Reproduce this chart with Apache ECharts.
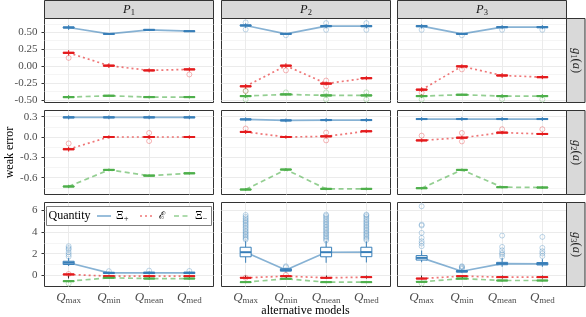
<!DOCTYPE html>
<html><head><meta charset="utf-8">
<script src="https://cdn.jsdelivr.net/npm/echarts@6/dist/echarts.min.js"></script>
<style>html,body{margin:0;padding:0;background:#fff}#c{width:586px;height:317px}</style>
</head><body><div id="c"></div>
<script>
// ---------- categories / labels ----------
const models = ['max', 'min', 'mean', 'med'];          // Q_{...}
const panelSubs = ['1', '2', '3'];                     // P_1..P_3
const functionSubs = ['1', '2', '3'];                  // g_1(a)..g_3(a)
const quantities = ['Ξ+', 'ℰ', 'Ξ−'];

// ---------- y axis ranges / ticks per row ----------
const rowMin = [-0.54, -0.848, -1.01];
const rowMax = [0.703, 0.391, 6.71];
const g1Ticks = [-0.5, -0.25, 0, 0.25, 0.5];
const g1Minor = [-0.375, -0.125, 0.125, 0.375, 0.625];
const g2Ticks = [-0.6, -0.3, 0, 0.3];
const g2Minor = [-0.75, -0.45, -0.15, 0.15];
const g3Ticks = [0, 2, 4, 6];
const g3Minor = [1, 3, 5];

// ---------- box stats [lower whisker, Q1, median, Q3, upper whisker] for Qmax,Qmin,Qmean,Qmed ----------
// row g1(a)
const g1XiPlus = [
  [[0.535,0.562,0.57,0.578,0.605],[0.462,0.469,0.475,0.481,0.488],[0.522,0.529,0.535,0.541,0.548],[0.502,0.509,0.515,0.521,0.528]],
  [[0.565,0.592,0.60,0.608,0.632],[0.462,0.469,0.475,0.481,0.49],[0.558,0.582,0.59,0.598,0.622],[0.558,0.582,0.59,0.598,0.622]],
  [[0.555,0.581,0.59,0.598,0.62],[0.462,0.469,0.475,0.481,0.49],[0.545,0.567,0.575,0.583,0.605],[0.545,0.567,0.575,0.583,0.605]]];
const g1E = [
  [[0.155,0.187,0.195,0.203,0.235],[-0.03,-0.003,0.005,0.013,0.04],[-0.095,-0.072,-0.065,-0.058,-0.035],[-0.08,-0.057,-0.05,-0.043,-0.02]],
  [[-0.335,-0.308,-0.30,-0.292,-0.265],[-0.03,-0.003,0.005,0.013,0.04],[-0.29,-0.268,-0.26,-0.252,-0.23],[-0.21,-0.188,-0.18,-0.172,-0.15]],
  [[-0.385,-0.358,-0.35,-0.342,-0.315],[-0.035,-0.013,-0.005,0.003,0.025],[-0.175,-0.148,-0.14,-0.132,-0.105],[-0.195,-0.173,-0.165,-0.157,-0.135]]];
const g1XiMinus = [
  [[-0.49,-0.468,-0.46,-0.452,-0.43],[-0.455,-0.447,-0.44,-0.433,-0.425],[-0.48,-0.467,-0.46,-0.453,-0.44],[-0.48,-0.467,-0.46,-0.453,-0.44]],
  [[-0.475,-0.453,-0.445,-0.437,-0.415],[-0.44,-0.427,-0.42,-0.413,-0.40],[-0.465,-0.443,-0.435,-0.427,-0.405],[-0.465,-0.443,-0.435,-0.427,-0.405]],
  [[-0.475,-0.453,-0.445,-0.437,-0.415],[-0.44,-0.432,-0.425,-0.418,-0.41],[-0.475,-0.453,-0.445,-0.437,-0.415],[-0.475,-0.453,-0.445,-0.437,-0.415]]];
// row g2(a)
const g2XiPlus = [
  [[0.26,0.282,0.29,0.298,0.32],[0.262,0.283,0.29,0.297,0.318],[0.262,0.283,0.29,0.297,0.318],[0.262,0.283,0.29,0.297,0.318]],
  [[0.232,0.253,0.26,0.267,0.29],[0.218,0.238,0.245,0.252,0.272],[0.222,0.243,0.25,0.257,0.278],[0.222,0.243,0.25,0.257,0.278]],
  [[0.237,0.258,0.265,0.272,0.293],[0.237,0.258,0.265,0.272,0.293],[0.237,0.258,0.265,0.272,0.293],[0.237,0.258,0.265,0.272,0.293]]];
const g2E = [
  [[-0.215,-0.188,-0.18,-0.172,-0.145],[-0.025,-0.007,0.0,0.007,0.025],[-0.03,-0.007,0.0,0.007,0.03],[-0.025,-0.007,0.0,0.007,0.025]],
  [[0.045,0.068,0.075,0.082,0.105],[-0.025,-0.007,0.0,0.007,0.025],[-0.018,0.003,0.01,0.017,0.038],[0.06,0.078,0.085,0.092,0.11]],
  [[-0.078,-0.057,-0.05,-0.043,-0.022],[-0.035,-0.017,-0.01,-0.003,0.015],[0.04,0.058,0.065,0.072,0.09],[0.02,0.038,0.045,0.052,0.07]]];
const g2XiMinus = [
  [[-0.755,-0.737,-0.73,-0.723,-0.705],[-0.505,-0.492,-0.485,-0.478,-0.465],[-0.59,-0.577,-0.57,-0.563,-0.55],[-0.555,-0.542,-0.535,-0.528,-0.515]],
  [[-0.795,-0.782,-0.775,-0.768,-0.755],[-0.5,-0.487,-0.48,-0.473,-0.46],[-0.785,-0.772,-0.765,-0.758,-0.745],[-0.785,-0.772,-0.765,-0.758,-0.745]],
  [[-0.775,-0.762,-0.755,-0.748,-0.735],[-0.505,-0.492,-0.485,-0.478,-0.465],[-0.76,-0.747,-0.74,-0.733,-0.72],[-0.765,-0.752,-0.745,-0.738,-0.725]]];
// row g3(a)
const g3XiPlus = [
  [[0.87,1.01,1.17,1.31,1.6],[0.1,0.18,0.24,0.29,0.36],[0.1,0.18,0.25,0.3,0.38],[0.1,0.18,0.25,0.3,0.37]],
  [[1.17,1.72,2.14,2.6,3.15],[0.28,0.4,0.5,0.62,0.72],[1.17,1.72,2.14,2.6,3.15],[1.2,1.73,2.15,2.6,3.12]],
  [[1.22,1.42,1.62,1.83,2.3],[0.22,0.31,0.39,0.46,0.58],[0.8,0.99,1.09,1.21,1.6],[0.8,0.97,1.07,1.19,1.5]]];
const g3E = [
  [[-0.02,0.06,0.1,0.14,0.22],[-0.16,-0.09,-0.06,-0.03,0.04],[-0.16,-0.09,-0.06,-0.03,0.04],[-0.16,-0.09,-0.06,-0.03,0.04]],
  [[-0.31,-0.24,-0.21,-0.18,-0.11],[-0.16,-0.09,-0.06,-0.03,0.04],[-0.31,-0.24,-0.21,-0.18,-0.11],[-0.25,-0.18,-0.15,-0.12,-0.05]],
  [[-0.38,-0.31,-0.28,-0.25,-0.18],[-0.16,-0.09,-0.06,-0.03,0.04],[-0.25,-0.18,-0.15,-0.12,-0.05],[-0.25,-0.18,-0.15,-0.12,-0.05]]];
const g3XiMinus = [
  [[-0.63,-0.56,-0.52,-0.48,-0.41],[-0.31,-0.24,-0.21,-0.18,-0.11],[-0.38,-0.31,-0.28,-0.25,-0.18],[-0.38,-0.31,-0.28,-0.25,-0.18]],
  [[-0.71,-0.64,-0.61,-0.58,-0.51],[-0.4,-0.33,-0.3,-0.27,-0.2],[-0.71,-0.64,-0.61,-0.58,-0.51],[-0.71,-0.64,-0.61,-0.58,-0.51]],
  [[-0.68,-0.61,-0.58,-0.55,-0.48],[-0.38,-0.31,-0.28,-0.25,-0.18],[-0.56,-0.49,-0.46,-0.43,-0.36],[-0.56,-0.49,-0.46,-0.43,-0.36]]];

// ---------- outliers: [panel index, quantity index, model position 1..4, value] ----------
const g1Outliers = [
  [0,1,1,0.12],[0,1,4,-0.125],
  [1,0,1,0.645],[1,0,1,0.54],[1,0,2,0.455],[1,0,3,0.635],[1,0,3,0.535],[1,0,4,0.635],[1,0,4,0.535],
  [1,1,1,-0.37],[1,1,2,-0.065],[1,1,3,-0.215],[1,1,3,-0.30],
  [1,2,1,-0.37],[1,2,1,-0.495],[1,2,2,-0.39],[1,2,3,-0.39],[1,2,3,-0.495],[1,2,4,-0.39],[1,2,4,-0.495],
  [2,0,1,0.535],[2,0,2,0.455],[2,0,3,0.535],[2,0,4,0.535],[2,1,1,-0.395],[2,1,2,-0.05],
  [2,2,1,-0.495],[2,2,3,-0.49],[2,2,4,-0.495]];
const g2Outliers = [
  [0,1,1,-0.095],[0,1,3,0.06],[0,1,3,-0.06],
  [1,1,1,0.125],[1,1,3,0.065],[1,1,3,-0.05],
  [2,1,1,0.02],[2,1,2,0.06],[2,1,2,-0.065],[2,1,3,0.115],[2,1,4,0.115]];
const g3Outliers = [
  [0,0,1,2.69],[0,0,1,2.52],[0,0,1,2.39],[0,0,1,2.14],[0,0,1,1.93],[0,0,1,1.74],
  [0,0,2,0.4],[0,0,3,0.45],[0,0,4,0.42],[0,1,1,0.14],[0,2,1,-0.73],
  [1,0,1,3.3],[1,0,1,3.42],[1,0,1,3.55],[1,0,1,3.7],[1,0,1,3.83],[1,0,1,3.97],[1,0,1,4.1],[1,0,1,4.26],[1,0,1,4.4],
  [1,0,1,4.55],[1,0,1,4.68],[1,0,1,4.83],[1,0,1,4.97],[1,0,1,5.1],[1,0,1,5.25],[1,0,1,5.4],[1,0,1,5.57],
  [1,0,2,0.85],[1,0,2,0.76],
  [1,0,3,3.22],[1,0,3,3.35],[1,0,3,3.5],[1,0,3,3.62],[1,0,3,3.78],[1,0,3,3.9],[1,0,3,4.05],[1,0,3,4.2],[1,0,3,4.33],
  [1,0,3,4.48],[1,0,3,4.62],[1,0,3,4.76],[1,0,3,4.9],[1,0,3,5.05],[1,0,3,5.2],[1,0,3,5.35],[1,0,3,5.5],[1,0,3,5.6],
  [1,0,4,3.25],[1,0,4,3.38],[1,0,4,3.52],[1,0,4,3.66],[1,0,4,3.8],[1,0,4,3.93],[1,0,4,4.08],[1,0,4,4.22],[1,0,4,4.36],
  [1,0,4,4.5],[1,0,4,4.64],[1,0,4,4.78],[1,0,4,4.92],[1,0,4,5.07],[1,0,4,5.22],[1,0,4,5.38],[1,0,4,5.52],[1,0,4,5.6],
  [1,1,1,-0.2],[1,1,2,0.06],
  [2,0,1,6.36],[2,0,1,4.68],[2,0,1,4.59],[2,0,1,3.92],[2,0,1,3.46],[2,0,1,3.15],[2,0,1,2.94],[2,0,1,2.69],
  [2,0,2,0.6],[2,0,2,0.7],[2,0,2,0.79],[2,0,2,0.85],
  [2,0,3,3.67],[2,0,3,2.63],[2,0,3,2.32],[2,0,3,2.08],[2,0,3,1.93],[2,0,3,1.72],
  [2,0,4,3.55],[2,0,4,2.54],[2,0,4,2.23],[2,0,4,2.02],[2,0,4,1.78],
  [2,2,1,-0.73]];

// ---------- styling ----------
const FONT = "'Liberation Serif','DejaVu Serif',serif";
const colors = ['#377EB8', '#E41A1C', '#4DAF4A'];
const lineTypes = ['solid', [2, 3], [5, 3.5]];
const colLeft = [44.5, 221.5, 397.5], colW = 169;
const rowTop = [18.5, 110.5, 202.5], rowH = 84;
const rowTicks = [g1Ticks, g2Ticks, g3Ticks];
const rowMinor = [g1Minor, g2Minor, g3Minor];
const rowFmt = [v => v.toFixed(2), v => v.toFixed(1), v => String(Math.round(v))];
const rowBoxes = [[g1XiPlus, g1E, g1XiMinus], [g2XiPlus, g2E, g2XiMinus], [g3XiPlus, g3E, g3XiMinus]];
const rowOutliers = [g1Outliers, g2Outliers, g3Outliers];
const GRID = '#ebebeb', MINOR = '#f3f3f3';

const grids = [], xAxes = [], yAxes = [], series = [];

function boxRenderer(color) {
  return function (params, api) {
    const x = api.value(0);
    const lo = api.coord([x, api.value(1)]), q1 = api.coord([x, api.value(2)]),
      md = api.coord([x, api.value(3)]), q3 = api.coord([x, api.value(4)]), hi = api.coord([x, api.value(5)]);
    const px = lo[0], half = 5.5;
    return {
      type: 'group', children: [
        { type: 'line', shape: { x1: px, y1: lo[1], x2: px, y2: q1[1] }, style: { stroke: color, lineWidth: 1 } },
        { type: 'line', shape: { x1: px, y1: q3[1], x2: px, y2: hi[1] }, style: { stroke: color, lineWidth: 1 } },
        { type: 'rect', shape: { x: px - half, y: q3[1], width: 2 * half, height: q1[1] - q3[1] }, style: { fill: '#fff', stroke: color, lineWidth: 1 } },
        { type: 'line', shape: { x1: px - half, y1: md[1], x2: px + half, y2: md[1] }, style: { stroke: color, lineWidth: 2 } }
      ]
    };
  };
}

const xRich = {
  q: { fontFamily: FONT, fontStyle: 'italic', fontSize: 13, color: '#4d4d4d', lineHeight: 15 },
  s: { fontFamily: FONT, fontSize: 9, color: '#4d4d4d', lineHeight: 7, verticalAlign: 'bottom' }
};

for (let r = 0; r < 3; r++) {
  for (let c = 0; c < 3; c++) {
    const g = r * 3 + c;
    grids.push({ left: colLeft[c], top: rowTop[r], width: colW, height: rowH, show: true,
      borderColor: '#333', borderWidth: 1, backgroundColor: '#fff' });
    xAxes.push({
      type: 'value', gridIndex: g, min: 0.4, max: 4.6,
      axisLine: { show: false },
      axisTick: { show: r === 2, length: 3, lineStyle: { color: '#333', width: 1 }, customValues: [1, 2, 3, 4] },
      axisLabel: { show: r === 2, customValues: [1, 2, 3, 4], margin: 4,
        formatter: v => '{q|Q}{s|' + models[Math.round(v) - 1] + '}', rich: xRich },
      splitLine: { show: true, lineStyle: { color: GRID, width: 1 }, customValues: [1, 2, 3, 4] }
    });
    yAxes.push({
      type: 'value', gridIndex: g, min: rowMin[r], max: rowMax[r], position: 'left',
      axisLine: { show: false },
      axisTick: { show: c === 0, length: 3, lineStyle: { color: '#333', width: 1 }, customValues: rowTicks[r] },
      axisLabel: { show: c === 0, customValues: rowTicks[r], margin: 7, formatter: rowFmt[r],
        color: '#4d4d4d', fontFamily: FONT, fontSize: 11 },
      splitLine: { show: true, lineStyle: { color: GRID, width: 1 }, customValues: rowTicks[r] }
    });
    yAxes.push({
      type: 'value', gridIndex: g, min: rowMin[r], max: rowMax[r], position: 'left',
      axisLine: { show: false },
      axisTick: { show: false, customValues: rowMinor[r] },
      axisLabel: { show: false, customValues: rowMinor[r] },
      splitLine: { show: true, lineStyle: { color: MINOR, width: 0.8 }, customValues: rowMinor[r] }
    });
    for (let q = 0; q < 3; q++) {
      const boxes = rowBoxes[r][q][c];
      series.push({
        type: 'line', name: quantities[q], xAxisIndex: g, yAxisIndex: 2 * g, silent: true,
        data: boxes.map((b, i) => [i + 1, b[2]]), symbol: 'none', z: 2,
        lineStyle: { color: colors[q], width: 1.7, type: lineTypes[q], opacity: 0.6, cap: 'butt' }
      });
    }
    for (let q = 0; q < 3; q++) {
      const boxes = rowBoxes[r][q][c];
      series.push({
        type: 'custom', xAxisIndex: g, yAxisIndex: 2 * g, silent: true, z: 3,
        data: boxes.map((b, i) => [i + 1, b[0], b[1], b[2], b[3], b[4]]),
        encode: { x: 0, y: [1, 2, 3, 4, 5] }, renderItem: boxRenderer(colors[q])
      });
      const outs = rowOutliers[r].filter(o => o[0] === c && o[1] === q).map(o => [o[2], o[3]]);
      if (outs.length) series.push({
        type: 'scatter', xAxisIndex: g, yAxisIndex: 2 * g, silent: true, z: 4,
        data: outs, symbol: 'circle', symbolSize: 5,
        itemStyle: { color: 'rgba(0,0,0,0)', borderColor: colors[q], borderWidth: 0.8, opacity: 0.4 }
      });
    }
  }
}

// ---------- strips, titles, legend ----------
const graphics = [];
const stripRich = {
  i: { fontFamily: FONT, fontStyle: 'italic', fontSize: 12.5, fill: '#1a1a1a', lineHeight: 15 },
  n: { fontFamily: FONT, fontSize: 12.5, fill: '#1a1a1a', lineHeight: 15 },
  s: { fontFamily: FONT, fontSize: 8.5, fill: '#1a1a1a', lineHeight: 7, verticalAlign: 'bottom' }
};
for (let c = 0; c < 3; c++) {
  graphics.push({ type: 'rect', shape: { x: colLeft[c], y: 0.5, width: colW, height: 18 },
    style: { fill: '#d9d9d9', stroke: '#333', lineWidth: 1 }, z: 10 });
  graphics.push({ type: 'text', x: colLeft[c] + colW / 2, y: 9.5, z: 11,
    style: { text: '{i|P}{s|' + panelSubs[c] + '}', rich: stripRich, align: 'center', verticalAlign: 'middle' } });
}
for (let r = 0; r < 3; r++) {
  graphics.push({ type: 'rect', shape: { x: 566.5, y: rowTop[r], width: 18.5, height: rowH },
    style: { fill: '#d9d9d9', stroke: '#333', lineWidth: 1 }, z: 10 });
  graphics.push({ type: 'text', x: 576, y: rowTop[r] + rowH / 2, rotation: -Math.PI / 2, z: 11,
    style: { text: '{i|g}{s|' + functionSubs[r] + '}{n|(}{i|a}{n|)}', rich: stripRich, align: 'center', verticalAlign: 'middle' } });
}
graphics.push({ type: 'text', x: 9.5, y: 152.5, rotation: Math.PI / 2, z: 11,
  style: { text: 'weak error', font: '12px ' + FONT, fill: '#000', align: 'center', verticalAlign: 'middle' } });
graphics.push({ type: 'text', x: 305.5, y: 311, z: 11,
  style: { text: 'alternative models', font: '12px ' + FONT, fill: '#000', align: 'center', verticalAlign: 'middle' } });

// legend
const legRich = {
  m: { fontFamily: FONT, fontSize: 12, fill: '#000', lineHeight: 15 },
  e: { fontFamily: "'DejaVu Serif',serif", fontSize: 10.5, fill: '#000', lineHeight: 15 },
  s: { fontFamily: FONT, fontSize: 8.5, fill: '#000', lineHeight: 7, verticalAlign: 'bottom' }
};
const legY = 216;
graphics.push({ type: 'rect', shape: { x: 46.5, y: 206.5, width: 165, height: 19 },
  style: { fill: '#fff', stroke: '#7f7f7f', lineWidth: 1 }, z: 20 });
graphics.push({ type: 'text', x: 48.5, y: legY, z: 21,
  style: { text: 'Quantity', font: '12px ' + FONT, fill: '#000', align: 'left', verticalAlign: 'middle' } });
const legItems = [
  { x1: 97, x2: 111, tx: 116, label: '{m|Ξ}{s|+}' },
  { x1: 140, x2: 153, tx: 159, label: '{e|ℰ}' },
  { x1: 174, x2: 188, tx: 195, label: '{m|Ξ}{s|−}' }
];
legItems.forEach((it, q) => {
  graphics.push({ type: 'line', shape: { x1: it.x1, y1: legY, x2: it.x2, y2: legY }, z: 21,
    style: { stroke: colors[q], lineWidth: 1.7, opacity: 0.6, lineDash: q === 0 ? null : lineTypes[q] } });
  graphics.push({ type: 'text', x: it.tx, y: legY, z: 21,
    style: { text: it.label, rich: legRich, align: 'left', verticalAlign: 'middle' } });
});

const chart = echarts.init(document.getElementById('c'), null, { renderer: 'canvas' });
chart.setOption({
  animation: false,
  backgroundColor: '#fff',
  grid: grids, xAxis: xAxes, yAxis: yAxes, series: series,
  graphic: { elements: graphics }
});
</script></body></html>
